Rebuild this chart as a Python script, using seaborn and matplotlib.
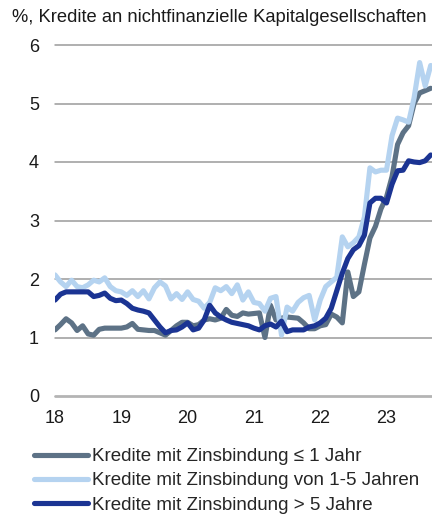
import numpy as np
import pandas as pd
import matplotlib
matplotlib.use("Agg")
import matplotlib.pyplot as plt
import seaborn as sns
from matplotlib.lines import Line2D

# Monthly data Jan 2018 .. Sep 2023
start_year = 2018
series_names = [
    "Kredite mit Zinsbindung ≤ 1 Jahr",
    "Kredite mit Zinsbindung von 1-5 Jahren",
    "Kredite mit Zinsbindung > 5 Jahre",
]
bis_1_jahr = [
    1.13, 1.22, 1.32, 1.25, 1.12, 1.20, 1.06, 1.04, 1.14, 1.16, 1.16, 1.16,
    1.16, 1.18, 1.24, 1.14, 1.13, 1.12, 1.12, 1.08, 1.04, 1.12, 1.20, 1.26,
    1.26, 1.20, 1.22, 1.30, 1.32, 1.30, 1.33, 1.48, 1.38, 1.36, 1.42, 1.40,
    1.41, 1.42, 1.00, 1.55, 1.30, 1.33, 1.35, 1.34, 1.33, 1.25, 1.15, 1.15,
    1.20, 1.22, 1.40, 1.35, 1.25, 2.12, 1.70, 1.78, 2.25, 2.70, 2.90, 3.20,
    3.40, 3.75, 4.30, 4.50, 4.62, 5.00, 5.18, 5.22, 5.26,
]
von_1_5 = [
    2.07, 1.95, 1.87, 1.98, 1.87, 1.85, 1.90, 1.98, 1.95, 2.02, 1.87, 1.80,
    1.78, 1.72, 1.80, 1.70, 1.80, 1.66, 1.85, 1.95, 1.88, 1.66, 1.75, 1.65,
    1.78, 1.65, 1.62, 1.50, 1.60, 1.85, 1.80, 1.87, 1.75, 1.90, 1.64, 1.78,
    1.60, 1.58, 1.45, 1.67, 1.70, 1.04, 1.52, 1.45, 1.60, 1.68, 1.72, 1.30,
    1.64, 1.87, 1.95, 2.03, 2.72, 2.55, 2.62, 2.72, 3.06, 3.90, 3.83, 3.86,
    3.86, 4.45, 4.75, 4.72, 4.68, 5.10, 5.70, 5.30, 5.65,
]
ueber_5 = [
    1.64, 1.74, 1.78, 1.78, 1.78, 1.78, 1.78, 1.70, 1.72, 1.76, 1.67, 1.63,
    1.64, 1.58, 1.50, 1.47, 1.45, 1.42, 1.30, 1.18, 1.08, 1.12, 1.13, 1.18,
    1.25, 1.13, 1.16, 1.30, 1.55, 1.42, 1.35, 1.30, 1.26, 1.24, 1.22, 1.20,
    1.16, 1.13, 1.20, 1.23, 1.18, 1.28, 1.10, 1.13, 1.13, 1.13, 1.18, 1.20,
    1.25, 1.33, 1.50, 1.80, 2.10, 2.35, 2.50, 2.57, 2.75, 3.30, 3.38, 3.38,
    3.30, 3.62, 3.85, 3.86, 4.02, 4.00, 3.99, 4.02, 4.12,
]
year_ticks = [2018, 2019, 2020, 2021, 2022, 2023]
year_labels = ["18", "19", "20", "21", "22", "23"]
y_ticks = [0, 1, 2, 3, 4, 5, 6]
title = "%, Kredite an nichtfinanzielle Kapitalgesellschaften"

colors = ["#5d7286", "#b5d3f0", "#1b3493"]

n = len(bis_1_jahr)
t = start_year + np.arange(n) / 12.0
df = pd.DataFrame({
    "t": np.concatenate([t, t, t]),
    "value": bis_1_jahr + von_1_5 + ueber_5,
    "series": np.repeat(series_names, n),
})

sns.set_theme(style="white")
plt.rcParams["font.family"] = ["Liberation Sans", "DejaVu Sans"]

W, H = 432, 518
fig = plt.figure(figsize=(W / 100, H / 100), dpi=100)
ax = fig.add_axes([55 / W, 1 - 396 / H, (432 - 55) / W, (396 - 45) / H])

for yv in y_ticks:
    if yv == 0:
        ax.axhline(yv, color="#b4b4b4", lw=2.0, zorder=1, clip_on=False)
    else:
        ax.axhline(yv, color="#9a9a9a", lw=1.1, zorder=1, clip_on=False)

sns.lineplot(data=df, x="t", y="value", hue="series", hue_order=series_names,
             palette=colors, linewidth=3.7, ax=ax, legend=False, zorder=3)

ax.set_xlim(2018, 2018 + 377 / 66.3)
ax.set_ylim(0, 6)
ax.set_yticks(y_ticks)
ax.set_yticklabels([str(v) for v in y_ticks], fontsize=13, color="#1a1a1a")
ax.set_xticks(year_ticks)
ax.set_xticklabels(year_labels, fontsize=13, color="#1a1a1a")
ax.tick_params(axis="both", length=0)
ax.tick_params(axis="y", pad=11.5)
ax.tick_params(axis="x", pad=10)
ax.set_xlabel("")
ax.set_ylabel("")
for s in ax.spines.values():
    s.set_visible(False)
ax.set_facecolor("white")

fig.text(12 / W, 1 - 18 / H, title, fontsize=13.2, color="#1a1a1a",
         ha="left", va="center")

handles = [Line2D([0], [0], color=c, lw=3.7, solid_capstyle="round") for c in colors]
fig.legend(handles, series_names, loc="upper left",
           bbox_to_anchor=(34 / W, 1 - 448 / H), frameon=False,
           fontsize=13.5, handlelength=2.9, handletextpad=0.2,
           labelspacing=0.38, borderpad=0, borderaxespad=0)

fig.savefig("out.png", dpi=100, facecolor="white")
